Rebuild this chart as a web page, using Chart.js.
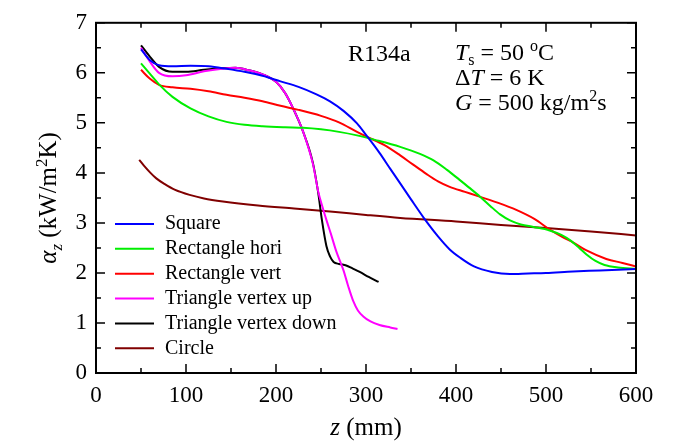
<!DOCTYPE html>
<html>
<head>
<meta charset="utf-8">
<script src="https://cdn.jsdelivr.net/npm/chart.js@4.4.1/dist/chart.umd.min.js"></script>
<style>
  html, body { margin: 0; padding: 0; background: #fff; }
  canvas { display: block; }
</style>
</head>
<body>
<canvas id="chart" width="676" height="442"></canvas>
<script>
const serif = '"Liberation Serif", "Times New Roman", serif';

// axis ticks
const xTickValues = [0, 100, 200, 300, 400, 500, 600];
const yTickValues = [0, 1, 2, 3, 4, 5, 6, 7];

// series, z in mm, alpha in kW/m2K
const seriesNames = ['Square', 'Rectangle hori', 'Rectangle vert', 'Triangle vertex up', 'Triangle vertex down', 'Circle'];

const squareZ = [50, 60, 70, 85, 105, 125, 145, 165, 185, 205, 225, 245, 260, 275, 290, 300, 315, 327, 338, 350, 365, 380, 393, 405, 420, 440, 460, 480, 500, 530, 560, 600];
const squareA = [6.47, 6.25, 6.15, 6.13, 6.14, 6.13, 6.08, 6.02, 5.94, 5.83, 5.72, 5.57, 5.43, 5.24, 4.99, 4.76, 4.4, 4.08, 3.79, 3.47, 3.08, 2.73, 2.47, 2.3, 2.13, 2.02, 1.98, 1.99, 2.0, 2.03, 2.05, 2.08];

const rectHoriZ = [50, 60, 70, 85, 105, 125, 145, 165, 185, 210, 230, 250, 270, 290, 310, 338, 360, 375, 390, 404, 415, 427, 438, 449, 460, 472, 486, 504, 517, 527, 537, 545, 555, 565, 580, 600];
const rectHoriA = [6.19, 5.98, 5.77, 5.52, 5.29, 5.13, 5.02, 4.96, 4.93, 4.91, 4.9, 4.87, 4.82, 4.75, 4.66, 4.52, 4.38, 4.25, 4.06, 3.86, 3.7, 3.52, 3.34, 3.17, 3.05, 2.97, 2.92, 2.85, 2.76, 2.65, 2.5, 2.37, 2.24, 2.16, 2.11, 2.08];

const rectVertZ = [50, 60, 70, 85, 105, 125, 145, 165, 185, 205, 225, 250, 270, 290, 300, 320, 338, 352, 367, 380, 393, 410, 427, 447, 467, 487, 504, 518, 530, 545, 567, 585, 600];
const rectVertA = [6.06, 5.88, 5.76, 5.71, 5.68, 5.63, 5.56, 5.5, 5.43, 5.34, 5.26, 5.14, 5.01, 4.82, 4.73, 4.56, 4.35, 4.17, 3.98, 3.83, 3.72, 3.62, 3.52, 3.4, 3.26, 3.08, 2.87, 2.72, 2.61, 2.45, 2.28, 2.2, 2.13];

const triUpZ = [50, 60, 70, 85, 100, 120, 140, 155, 170, 185, 200, 210, 219, 230, 241, 247, 252, 256, 261, 267, 275, 280, 286, 291, 297, 305, 315, 327, 335];
const triUpA = [6.5, 6.22, 6.0, 5.93, 5.95, 6.03, 6.08, 6.1, 6.05, 5.97, 5.82, 5.6, 5.29, 4.83, 4.18, 3.62, 3.3, 3.06, 2.78, 2.43, 2.05, 1.75, 1.43, 1.25, 1.13, 1.03, 0.96, 0.91, 0.88];

const triDownZ = [50, 60, 70, 85, 100, 120, 140, 155, 170, 185, 200, 210, 219, 230, 241, 247, 251, 256, 260, 264, 270, 278, 285, 293, 303, 314];
const triDownA = [6.55, 6.32, 6.12, 6.02, 6.02, 6.06, 6.09, 6.1, 6.05, 5.97, 5.82, 5.6, 5.29, 4.83, 4.2, 3.59, 3.06, 2.54, 2.33, 2.22, 2.18, 2.15, 2.09, 2.02, 1.92, 1.82];

const circleZ = [48, 53, 60, 67, 76, 88, 104, 120, 141, 180, 220, 260, 300, 338, 400, 450, 500, 550, 600];
const circleA = [4.26, 4.15, 4.01, 3.89, 3.78, 3.66, 3.56, 3.49, 3.43, 3.35, 3.29, 3.23, 3.16, 3.1, 3.03, 2.96, 2.9, 2.83, 2.75];

const seriesZ = [squareZ, rectHoriZ, rectVertZ, triUpZ, triDownZ, circleZ];
const seriesA = [squareA, rectHoriA, rectVertA, triUpA, triDownA, circleA];
const lineColors = ['#0000ff', '#00ee00', '#ff0000', '#ff00ff', '#000000', '#800000'];

function runWidth(ctx, runs, size) {
    let w = 0;
    runs.forEach(r => {
        const small = r.sub || r.sup;
        const fs = small ? Math.round(size * 0.66) : size;
        ctx.font = (r.it ? 'italic ' : '') + fs + 'px ' + serif;
        w += ctx.measureText(r.t).width;
    });
    return w;
}

function drawRuns(ctx, runs, x, y, size) {
    let cx = x;
    runs.forEach(r => {
        const small = r.sub || r.sup;
        const fs = small ? Math.round(size * 0.66) : size;
        ctx.font = (r.it ? 'italic ' : '') + fs + 'px ' + serif;
        let dy = 0;
        if (r.sub) dy = size * 0.22;
        if (r.sup) dy = -size * 0.36;
        ctx.fillText(r.t, cx, y + dy);
        cx += ctx.measureText(r.t).width;
    });
}

const decorPlugin = {
    id: 'decor',
    afterDraw(chart) {
        const ctx = chart.ctx;
        const a = chart.chartArea;
        const xs = chart.scales.x;
        const ys = chart.scales.y;
        ctx.save();
        ctx.strokeStyle = '#000';
        ctx.fillStyle = '#000';

        // frame
        ctx.lineWidth = 2;
        ctx.strokeRect(a.left, a.top, a.right - a.left, a.bottom - a.top);

        // inward tick marks on all four sides
        ctx.lineWidth = 1.5;
        for (let v = 0; v <= 600; v += 50) {
            const px = xs.getPixelForValue(v);
            const len = v % 100 === 0 ? 9 : 5;
            ctx.beginPath();
            ctx.moveTo(px, a.bottom); ctx.lineTo(px, a.bottom - len);
            ctx.moveTo(px, a.top); ctx.lineTo(px, a.top + len);
            ctx.stroke();
        }
        for (let v = 0; v <= 7; v += 0.5) {
            const py = ys.getPixelForValue(v);
            const len = v % 1 === 0 ? 9 : 5;
            ctx.beginPath();
            ctx.moveTo(a.left, py); ctx.lineTo(a.left + len, py);
            ctx.moveTo(a.right, py); ctx.lineTo(a.right - len, py);
            ctx.stroke();
        }

        // legend inside the plot
        ctx.textBaseline = 'middle';
        ctx.textAlign = 'left';
        chart.data.datasets.forEach((ds, i) => {
            const y = 224 + i * 24.86;
            ctx.strokeStyle = ds.borderColor;
            ctx.lineWidth = 2;
            ctx.beginPath();
            ctx.moveTo(115, y); ctx.lineTo(154, y);
            ctx.stroke();
            ctx.font = '20px ' + serif;
            ctx.fillText(ds.label, 165, y);
        });

        // annotations
        ctx.textBaseline = 'alphabetic';
        ctx.font = '24px ' + serif;
        ctx.fillText('R134a', 348, 61);
        drawRuns(ctx, [{t: 'T', it: true}, {t: 's', sub: true}, {t: ' = 50 '}, {t: 'o', sup: true}, {t: 'C'}], 455, 60, 24);
        drawRuns(ctx, [{t: '\u0394'}, {t: 'T', it: true}, {t: ' = 6 K'}], 455, 85, 24);
        drawRuns(ctx, [{t: 'G', it: true}, {t: ' = 500 kg/m'}, {t: '2', sup: true}, {t: 's'}], 455, 110, 24);

        // x title
        const xRuns = [{t: 'z', it: true}, {t: ' (mm)'}];
        const xw = runWidth(ctx, xRuns, 25);
        drawRuns(ctx, xRuns, (a.left + a.right) / 2 - xw / 2, 435, 25);

        // y title
        const yRuns = [{t: '\u03b1', it: true}, {t: 'z', it: true, sub: true}, {t: ' (kW/m'}, {t: '2', sup: true}, {t: 'K)'}];
        const yw = runWidth(ctx, yRuns, 25);
        ctx.translate(56, (a.top + a.bottom) / 2);
        ctx.rotate(-Math.PI / 2);
        drawRuns(ctx, yRuns, -yw / 2, 0, 25);
        ctx.restore();
    }
};

const datasets = seriesNames.map((name, i) => ({
    label: name,
    data: seriesZ[i].map((z, j) => ({ x: z, y: seriesA[i][j] })),
    borderColor: lineColors[i],
    backgroundColor: lineColors[i],
    borderWidth: 2,
    pointRadius: 0,
    showLine: true,
    fill: false,
    cubicInterpolationMode: 'monotone'
}));

new Chart(document.getElementById('chart').getContext('2d'), {
    type: 'scatter',
    data: { datasets: datasets },
    options: {
        responsive: false,
        animation: false,
        layout: { padding: { top: 16, right: 40, left: 0, bottom: 0 } },
        plugins: {
            legend: { display: false },
            tooltip: { enabled: false }
        },
        scales: {
            x: {
                type: 'linear',
                min: 0,
                max: 600,
                afterBuildTicks: s => { s.ticks = xTickValues.map(v => ({ value: v })); },
                afterFit: s => { s.height = 69; },
                grid: { display: false, drawTicks: false },
                border: { display: false },
                ticks: { color: '#000', padding: 9, maxRotation: 0, font: { family: serif, size: 23 } }
            },
            y: {
                type: 'linear',
                min: 0,
                max: 7,
                afterBuildTicks: s => { s.ticks = yTickValues.map(v => ({ value: v })); },
                afterFit: s => { s.width = 96; },
                grid: { display: false, drawTicks: false },
                border: { display: false },
                ticks: { color: '#000', padding: 9, font: { family: serif, size: 23 } }
            }
        }
    },
    plugins: [decorPlugin]
});
</script>
</body>
</html>
